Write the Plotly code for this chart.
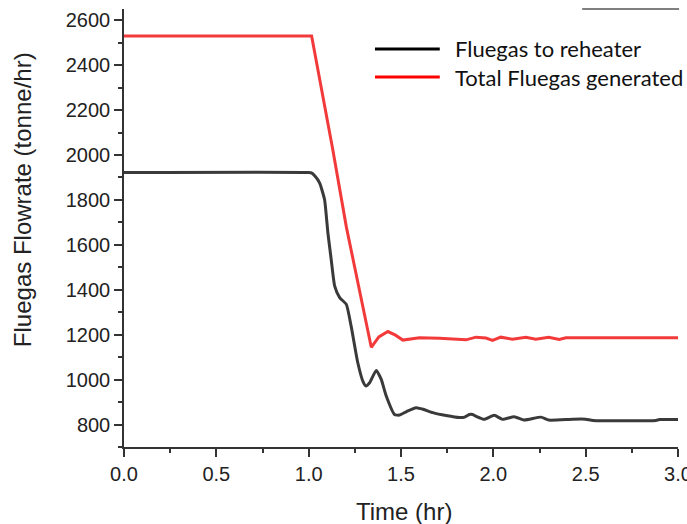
import plotly.graph_objects as go

# ---- data ----
series_names = ["Fluegas to reheater", "Total Fluegas generated"]

t_reheater = [0.0, 1.0, 1.015, 1.035, 1.059, 1.086, 1.104, 1.122, 1.141, 1.168, 1.204,
              1.23, 1.266, 1.295, 1.31, 1.33, 1.366, 1.393, 1.42, 1.465, 1.492, 1.53,
              1.582, 1.62, 1.672, 1.744, 1.816, 1.845, 1.87, 1.888, 1.91, 1.951, 2.005,
              2.05, 2.113, 2.168, 2.258, 2.30, 2.43, 2.50, 2.54, 2.88, 2.90, 3.0]
v_reheater = [1922, 1922, 1920, 1905, 1876, 1802, 1654, 1535, 1416, 1365, 1335,
              1238, 1075, 990, 972, 986, 1041, 1001, 927, 845, 842, 858,
              875, 868, 853, 840, 831, 833, 845, 845, 835, 823, 841,
              823, 835, 820, 833, 820, 824, 824, 818, 818, 822, 822]

t_total = [0.0, 1.016, 1.13, 1.204, 1.339, 1.38, 1.429, 1.47, 1.51, 1.6, 1.708, 1.852,
           1.906, 1.96, 1.996, 2.04, 2.104, 2.176, 2.23, 2.30, 2.357, 2.393, 3.0]
v_total = [2530, 2530, 2027, 1680, 1144, 1190, 1214, 1198, 1176, 1186, 1184, 1177,
           1189, 1185, 1175, 1189, 1180, 1189, 1180, 1189, 1179, 1186, 1186]

x_ticks = [0.0, 0.5, 1.0, 1.5, 2.0, 2.5, 3.0]
y_ticks = [800, 1000, 1200, 1400, 1600, 1800, 2000, 2200, 2400, 2600]

plot_colors = ["#3a3a3a", "#f23a3a"]
legend_colors = ["#000000", "#ff0000"]

fig = go.Figure()
fig.add_trace(go.Scatter(x=t_reheater, y=v_reheater, mode="lines", name=series_names[0],
                         line=dict(color=plot_colors[0], width=3, shape="spline", smoothing=0.5)))
fig.add_trace(go.Scatter(x=t_total, y=v_total, mode="lines", name=series_names[1],
                         line=dict(color=plot_colors[1], width=3)))

axis_font = dict(family="Liberation Sans, Arial", size=20, color="#222222")
fig.update_xaxes(range=[0, 3], tickvals=x_ticks, tickformat=".1f", showgrid=False, zeroline=False,
                 showline=True, linecolor="#333333", linewidth=1.5,
                 ticks="outside", ticklen=8, tickwidth=1.5, tickcolor="#333333",
                 minor=dict(dtick=0.25, ticks="outside", ticklen=4, tickwidth=1.5, tickcolor="#333333"),
                 tickfont=axis_font, automargin=False, ticklabeloverflow="allow")
fig.update_yaxes(range=[700, 2650], tickvals=y_ticks, showgrid=False, zeroline=False,
                 showline=True, linecolor="#333333", linewidth=1.5,
                 ticks="outside", ticklen=8, tickwidth=1.5, tickcolor="#333333",
                 minor=dict(dtick=100, ticks="outside", ticklen=4, tickwidth=1.5, tickcolor="#333333"),
                 tickfont=axis_font, automargin=False)

title_font = dict(family="Liberation Sans, Arial", size=24, color="#222222")
annotations = [
    dict(text="Time (hr)", xref="paper", yref="paper", x=0.505, y=-0.148,
         xanchor="center", yanchor="middle", showarrow=False, font=title_font),
    dict(text="Fluegas Flowrate (tonne/hr)", xref="paper", yref="paper", x=-0.182, y=0.564,
         xanchor="center", yanchor="middle", textangle=-90, showarrow=False, font=title_font),
]
shapes = [
    dict(type="line", xref="paper", yref="paper", x0=0.827, x1=1.002, y0=1.0, y1=1.0,
         line=dict(color="#000000", width=1)),
]
legend_y = [0.9087, 0.8447]
for name, col, ly in zip(series_names, legend_colors, legend_y):
    shapes.append(dict(type="line", xref="paper", yref="paper", x0=0.453, x1=0.570, y0=ly, y1=ly,
                       line=dict(color=col, width=3)))
    annotations.append(dict(text=name, xref="paper", yref="paper", x=0.594, y=ly,
                            xanchor="left", yanchor="middle", showarrow=False,
                            font=dict(family="Lato, Open Sans", size=22, color="#111111")))

fig.update_layout(width=687, height=524, margin=dict(l=124, r=9, t=9, b=77),
                  paper_bgcolor="white", plot_bgcolor="white", showlegend=False,
                  annotations=annotations, shapes=shapes)

fig.write_html("out.html")
